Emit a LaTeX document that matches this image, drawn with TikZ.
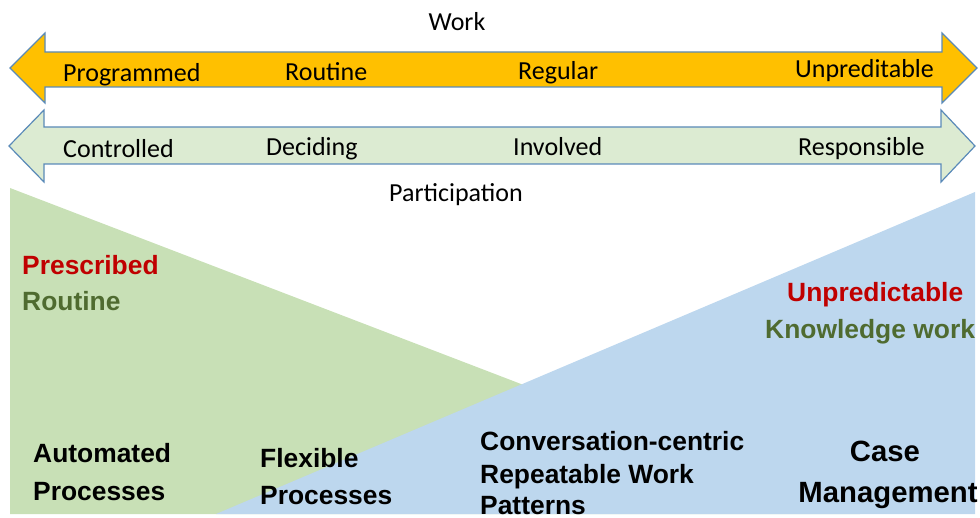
\documentclass[tikz,border=0pt]{standalone}
\usepackage{fontspec}
\setmainfont{Carlito}
\newfontfamily\boldsans{Liberation Sans}[BoldFont={Liberation Sans Bold}]
\definecolor{arrowline}{HTML}{5A8AB8}
\definecolor{orangefill}{HTML}{FFC000}
\definecolor{palegreen}{HTML}{DCEBD2}
\definecolor{trigreen}{HTML}{C8E0B6}
\definecolor{triblue}{HTML}{BDD7EE}
\definecolor{redtxt}{HTML}{C00000}
\definecolor{greentxt}{HTML}{4F6B30}
\tikzset{
  arrowshape/.style={draw=arrowline, line width=1.2pt, line join=miter},
  lab/.style={font=\fontsize{26}{30}\selectfont, inner sep=0pt, anchor=base west},
  labc/.style={font=\fontsize{26}{30}\selectfont, inner sep=0pt, anchor=base},
  bold/.style={font=\boldsans\bfseries\fontsize{26.4}{30}\selectfont, inner sep=0pt, anchor=base west},
  boldbig/.style={font=\boldsans\bfseries\fontsize{29.3}{33}\selectfont, inner sep=0pt, anchor=base},
}
\begin{document}
\begin{tikzpicture}[x=1pt, y=-1pt]
\useasboundingbox (0,0) rectangle (980,518);
% background triangles
\fill[trigreen] (10,188) -- (10,514) -- (860,514) -- cycle;
\fill[triblue] (975,192) -- (975,514) -- (216,514) -- cycle;
% arrows
\draw[arrowshape, fill=orangefill] (10,68) -- (45,33) -- (45,52) -- (942,52) -- (942,33) -- (977,68) -- (942,103) -- (942,87) -- (45,87) -- (45,103) -- cycle;
\draw[arrowshape, fill=palegreen] (9,146) -- (44,110) -- (44,127) -- (941,127) -- (941,110) -- (975,146) -- (941,182) -- (941,164) -- (44,164) -- (44,182) -- cycle;
% titles
\node[labc] (work) at (457,31) {Work};
\node[labc] (part) at (456,202) {Participation};
% work row
\node[lab] (prog) at (63,82) {Programmed};
\node[lab] (rout) at (285,81) {Routine};
\node[lab] (regu) at (518,80) {Regular};
\node[lab] (unpr) at (795,78) {Unpreditable};
% participation row
\node[lab] (cont) at (63,158) {Controlled};
\node[lab] (deci) at (266,156) {Deciding};
\node[lab] (invo) at (513,156) {Involved};
\node[lab] (resp) at (798,156) {Responsible};
% left descriptors
\node[bold, text=redtxt] (presc) at (22,275) {Prescribed};
\node[bold, text=greentxt] (routine) at (22,311) {Routine};
% right descriptors
\node[bold, text=redtxt] (unpred) at (787,302) {Unpredictable};
\node[bold, text=greentxt] (know) at (765,339) {Knowledge work};
% bottom labels
\node[bold] (auto1) at (33,462) {Automated};
\node[bold] (auto2) at (33,500) {Processes};
\node[bold] (flex1) at (260,467) {Flexible};
\node[bold] (flex2) at (260,504) {Processes};
\node[bold] (conv1) at (480,450) {Conversation-centric};
\node[bold] (conv2) at (480,483) {Repeatable Work};
\node[bold] (conv3) at (480,514) {Patterns};
\node[boldbig] (case1) at (885,461) {Case};
\node[boldbig] (case2) at (888,502) {Management};
\end{tikzpicture}
\end{document}
